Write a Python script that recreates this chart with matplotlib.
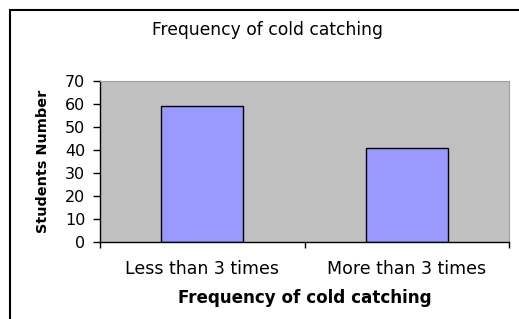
import matplotlib.pyplot as plt
from matplotlib.patches import Rectangle

categories = ["Less than 3 times", "More than 3 times"]
students = [59, 41]
yticks = [0, 10, 20, 30, 40, 50, 60, 70]

plt.rcParams['font.family'] = ['DejaVu Sans']

fig = plt.figure(figsize=(5.19, 3.19), dpi=100)
W, H = 519, 319
# plot area in pixels: x 100..509, y 81..242
ax = fig.add_axes([100 / W, 1 - 242 / H, 409 / W, 161 / H])
ax.set_facecolor('#C0C0C0')

x = list(range(len(categories)))
ax.bar(x, students, width=0.4, color='#9999FF', edgecolor='black', linewidth=1)
ax.set_xlim(-0.5, len(categories) - 0.5)
ax.set_ylim(0, 70)
ax.set_yticks(yticks)
ax.tick_params(axis='y', labelsize=11.5, length=5, width=1, pad=5.5)

# category boundaries as ticks, labels at centres
ax.set_xticks([-0.5, 0.5, 1.5])
ax.set_xticklabels([])
ax.set_xticks(x, minor=True)
ax.set_xticklabels(categories, minor=True)
ax.tick_params(axis='x', which='major', length=4, width=1)
ax.tick_params(axis='x', which='minor', length=0, labelsize=12.5, pad=13)

for s in ['top', 'right']:
    ax.spines[s].set_color('#A0A0A0')
    ax.spines[s].set_linewidth(0.8)
ax.spines['left'].set_linewidth(1)
ax.spines['bottom'].set_linewidth(1)

ax.set_xlabel("Frequency of cold catching", fontsize=12.1, fontweight='bold', labelpad=8)
ax.set_ylabel("Students Number", fontsize=10.4, fontweight='bold', labelpad=11)

fig.text(267 / W, 1 - 30 / H, "Frequency of cold catching", ha='center', va='center', fontsize=12.3)

fig.patches.append(Rectangle((10 / W, -0.1), 1.0, 1 - 10 / H + 0.1, transform=fig.transFigure,
                             fill=False, edgecolor='black', linewidth=1.5))

fig.savefig("out.png", dpi=100)
